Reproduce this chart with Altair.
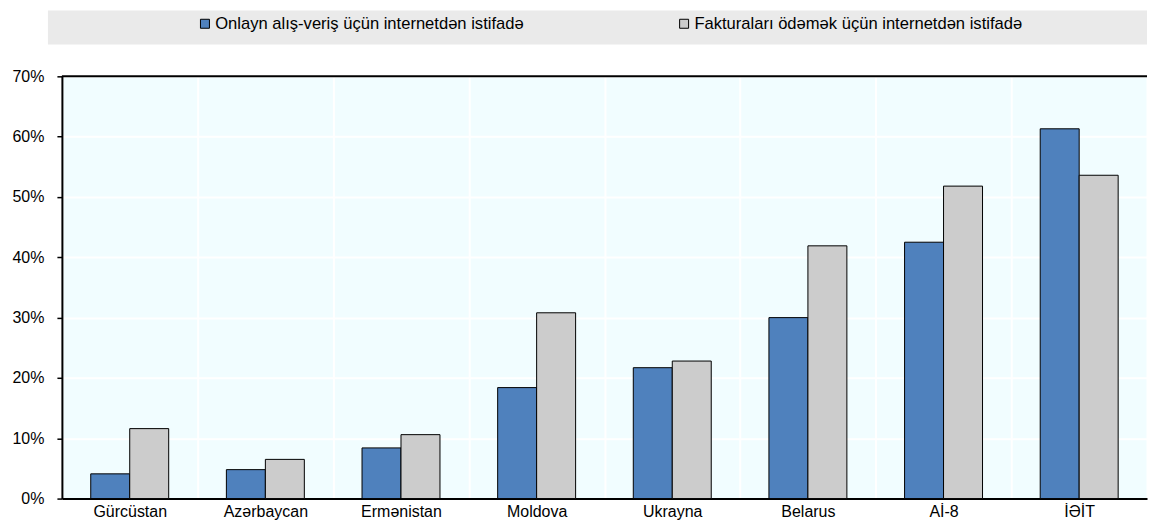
import altair as alt
import pandas as pd

categories = ["Gürcüstan", "Azərbaycan", "Ermənistan", "Moldova", "Ukrayna", "Belarus", "Aİ-8", "İƏİT"]
series_names = ["Onlayn alış-veriş üçün internetdən istifadə",
                "Fakturaları ödəmək üçün internetdən istifadə"]
online_shopping = [4.1, 4.8, 8.4, 18.4, 21.7, 30.0, 42.5, 61.3]
bill_payment = [11.6, 6.5, 10.6, 30.8, 22.8, 41.9, 51.8, 53.6]
y_ticks = [0, 10, 20, 30, 40, 50, 60, 70]
colors = ["#4F81BD", "#CCCCCC"]

rows = []
for i, c in enumerate(categories):
    rows.append({"cat": c, "series": series_names[0], "value": online_shopping[i]})
    rows.append({"cat": c, "series": series_names[1], "value": bill_payment[i]})
df = pd.DataFrame(rows)

W, H = 1087, 423
FONT = "Liberation Sans, Arial, sans-serif"

band = alt.Chart(pd.DataFrame({"a": [0]})).mark_rect(color="#EAEAEA").encode(
    x=alt.value(-14), x2=alt.value(W), y=alt.value(-66), y2=alt.value(-32)
)

topline = alt.Chart(pd.DataFrame({"a": [0]})).mark_rule(color="#000000", strokeWidth=2).encode(
    x=alt.value(0), x2=alt.value(W), y=alt.value(0)
)

bars = alt.Chart(df).mark_bar(stroke="#000000", strokeWidth=1).encode(
    x=alt.X("cat:N", sort=categories, title=None,
            scale=alt.Scale(paddingInner=0, paddingOuter=0),
            axis=alt.Axis(grid=True, gridColor="#FFFFFF", gridWidth=2, tickBand="extent",
                          ticks=False, domainColor="#000000", domainWidth=2,
                          labelAngle=0, labelPadding=5, labelFontSize=16,
                          labelColor="#000000", labelFont=FONT)),
    xOffset=alt.XOffset("series:N", sort=series_names,
                        scale=alt.Scale(paddingInner=0, paddingOuter=0.74)),
    y=alt.Y("value:Q", title=None,
            scale=alt.Scale(domain=[0, 70], nice=False),
            axis=alt.Axis(values=y_ticks, labelExpr="datum.value + '%'",
                          grid=True, gridColor="#FFFFFF", gridWidth=2,
                          tickColor="#000000", tickSize=5, tickWidth=1.5,
                          domainColor="#000000", domainWidth=2,
                          labelPadding=13, labelFontSize=16, labelColor="#000000",
                          labelFont=FONT)),
    color=alt.Color("series:N", sort=series_names, title=None,
                    scale=alt.Scale(domain=series_names, range=colors),
                    legend=alt.Legend(orient="none", legendX=135, legendY=-61,
                                      direction="horizontal", symbolType="square",
                                      symbolSize=81, symbolStrokeColor="#000000",
                                      symbolStrokeWidth=1, labelOffset=2,
                                      columnPadding=152, labelLimit=0, padding=0,
                                      labelFontSize=16.6, labelFont=FONT,
                                      labelColor="#000000")),
)

chart = alt.layer(band, bars, topline).properties(
    width=W, height=H,
    padding={"left": 3, "top": 2, "right": 0, "bottom": 0},
    view=alt.ViewBackground(fill="#F1FDFF", stroke=None),
).configure(background="#FFFFFF")

chart.save("out.html", embed_options={"renderer": "svg", "actions": False})
